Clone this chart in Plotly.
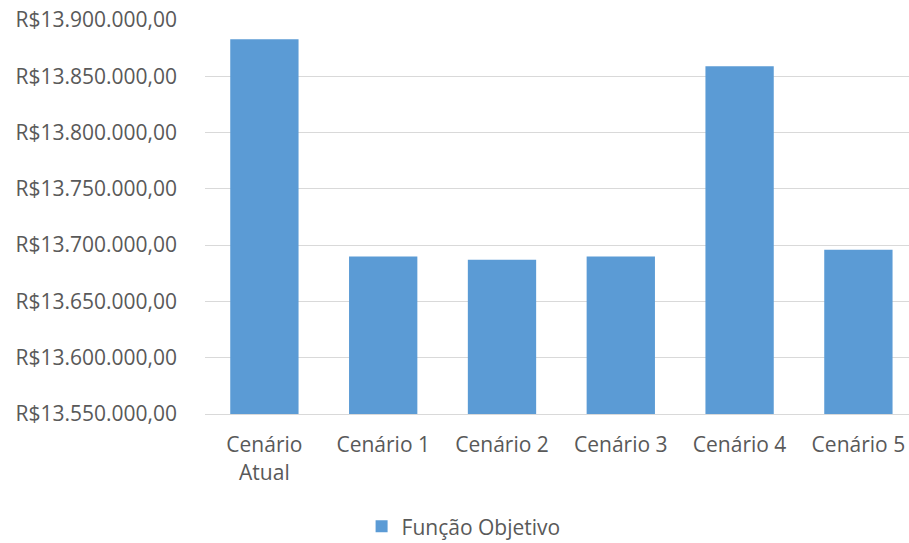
import plotly.graph_objects as go

# Objective function value per scenario (R$)
categories = ["Cenário<br>Atual", "Cenário 1", "Cenário 2", "Cenário 3", "Cenário 4", "Cenário 5"]
objective_values = [13883000, 13690000, 13687000, 13690000, 13859000, 13696000]
series_name = "Função Objetivo"

y_ticks = [13550000, 13600000, 13650000, 13700000, 13750000, 13800000, 13850000, 13900000]


def brl(v):
    s = f"{v:,.2f}"
    s = s.replace(",", "X").replace(".", ",").replace("X", ".")
    return "R$" + s


y_tick_text = [brl(v) for v in y_ticks]

font_family = "Open Sans, Liberation Sans, sans-serif"
text_color = "#595959"
grid_color = "#d9d9d9"

fig = go.Figure(
    go.Bar(
        x=list(range(len(categories))),
        y=objective_values,
        name=series_name,
        marker=dict(color="#5B9BD5", line=dict(width=0)),
        showlegend=True,
    )
)

fig.update_layout(
    width=909,
    height=543,
    margin=dict(l=205, r=0, t=20, b=129),
    paper_bgcolor="white",
    plot_bgcolor="white",
    bargap=0.425,
    font=dict(family=font_family, size=21, color=text_color),
    legend=dict(
        orientation="h",
        xref="container",
        yref="container",
        x=0.51,
        xanchor="center",
        y=0.03,
        yanchor="middle",
        font=dict(size=21, color=text_color),
        itemwidth=30,
    ),
)

fig.update_xaxes(
    tickmode="array",
    tickvals=list(range(len(categories))),
    ticktext=categories,
    range=[-0.5, 5.426],
    showgrid=False,
    showline=True,
    linecolor=grid_color,
    linewidth=1,
    ticks="",
    ticklabelstandoff=12,
    zeroline=False,
)

fig.update_yaxes(
    range=[13550000, 13900000],
    tickmode="array",
    tickvals=y_ticks,
    ticktext=y_tick_text,
    showgrid=True,
    gridcolor=grid_color,
    gridwidth=1,
    showline=False,
    ticks="",
    ticklabelstandoff=27,
    zeroline=False,
)

fig.write_html("out.html")
